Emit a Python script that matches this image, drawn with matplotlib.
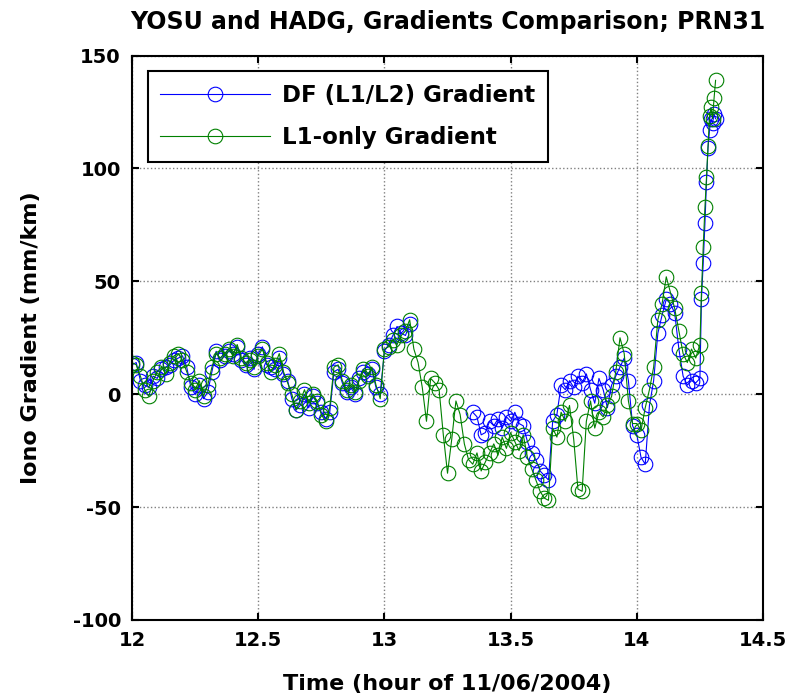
import numpy as np
import matplotlib
matplotlib.use("Agg")
import matplotlib.pyplot as plt

plt.rcParams['font.family'] = ['DejaVu Sans']
plt.rcParams['font.weight'] = 'bold'
plt.rcParams['axes.unicode_minus'] = False

l1_grad = [14, 13, 8, 2, -1, 6, 10, 12, 9, 14,
           17, 18, 15, 10, 5, 2, 6, -1, 4, 12,
           18, 16, 18, 20, 17, 22, 16, 14, 15, 12,
           17, 20, 14, 10, 13, 18, 10, 5, 0, -7,
           -3, 2, -4, 0, -3, -9, -12, -6, 12, 13,
           6, 2, 4, 1, 6, 11, 8, 12, 4, -2,
           20, 21, 24, 22, 26, 28, 33, 20, 14, 3,
           -12, 7, 5, 2, -18, -35, -20, -3, -9, -22,
           -29, -31, -26, -34, -30, -26, -22, -27, -19, -24,
           -17, -21, -25, -18, -28, -33, -38, -43, -46, -47,
           -15, -19, -8, -12, -5, -20, -42, -43, -12, -3,
           -15, -8, -10, -5, -1, 10, 25, 18, -3, -13,
           -13, -16, -6, 2, 12, 33, 40, 52, 45, 38,
           28, 18, 14, 20, 16, 22]

nan = np.nan
df_grad = [13, 14, 6, 4, 3, 8, 7, 11, 12, 13,
           15, 16, 17, 12, 3, 0, 4, -2, 1, 10,
           19, 15, 17, 19, 18, 21, 15, 13, 16, 11,
           18, 21, 13, 12, 11, 16, 9, 6, -2, -7,
           -5, 0, -6, -1, -4, -8, -11, -8, 10, 11,
           5, 1, 3, 0, 7, 10, 9, 11, 3, 0,
           19, 22, 26, 30, 27, 26, 31, nan, nan, nan,
           nan, nan, nan, nan, nan, nan, nan, nan, nan, nan,
           nan, -8, -10, -18, -17, -12, -14, -11, -15, -10,
           -12, -8, -13, -14, -21, -26, -29, -34, -36, -38,
           -12, -9, 4, 2, 6, 3, 8, 5, 9, 2,
           -4, 7, 2, -6, 4, 8, 12, 16, 6, -14,
           -18, -28, -31, -5, 6, 27, 35, 42, 40, 36,
           20, 8, 4, 6, 5, 7]

# last few minutes are sampled more densely
tail_hours = [14.256, 14.263, 14.270, 14.276, 14.282, 14.288, 14.294, 14.300, 14.306, 14.312]
tail_l1 = [45, 65, 83, 96, 110, 123, 127, 122, 131, 139]
tail_df = [42, 58, 76, 94, 109, 117, 122, 120, 124, 122]

hours = np.concatenate([12 + np.arange(len(l1_grad)) / 60, tail_hours])
l1 = np.concatenate([l1_grad, tail_l1])
df = np.concatenate([df_grad, tail_df])

fig = plt.figure(figsize=(8.02, 7.00), dpi=100)
ax = fig.add_axes([0.1646, 0.1143, 0.7868, 0.8064])

ax.plot(hours, df, '-o', color='#0000ff', lw=0.8, ms=10.5, mfc='none', mew=0.8,
        label='DF (L1/L2) Gradient')
ax.plot(hours, l1, '-o', color='#008000', lw=0.8, ms=10.5, mfc='none', mew=0.8,
        label='L1-only Gradient')

ax.set_xlim(12, 14.5)
ax.set_ylim(-100, 150)
ax.set_xticks([12, 12.5, 13, 13.5, 14, 14.5])
ax.set_xticklabels(['12', '12.5', '13', '13.5', '14', '14.5'])
ax.set_yticks([-100, -50, 0, 50, 100, 150])
ax.grid(True, linestyle=':', color='#808080', lw=1.0)
ax.tick_params(direction='in', length=5, width=1.5, top=True, right=True,
               labelsize=14, pad=8)
for s in ax.spines.values():
    s.set_linewidth(1.5)

ax.set_title('YOSU and HADG, Gradients Comparison; PRN31', fontsize=17,
             fontweight='bold', pad=19)
ax.set_xlabel('Time (hour of 11/06/2004)', fontsize=16, fontweight='bold',
              labelpad=17)
ax.set_ylabel('Iono Gradient (mm/km)', fontsize=16, fontweight='bold',
              labelpad=23)

leg = ax.legend(loc='upper left', bbox_to_anchor=(0.025, 0.972), fontsize=16.5,
                handlelength=4.8, handletextpad=0.5, fancybox=False,
                edgecolor='black', framealpha=1, borderpad=0.55,
                labelspacing=0.85, borderaxespad=0)
leg.get_frame().set_linewidth(1.5)

plt.savefig('out.png', dpi=100)
